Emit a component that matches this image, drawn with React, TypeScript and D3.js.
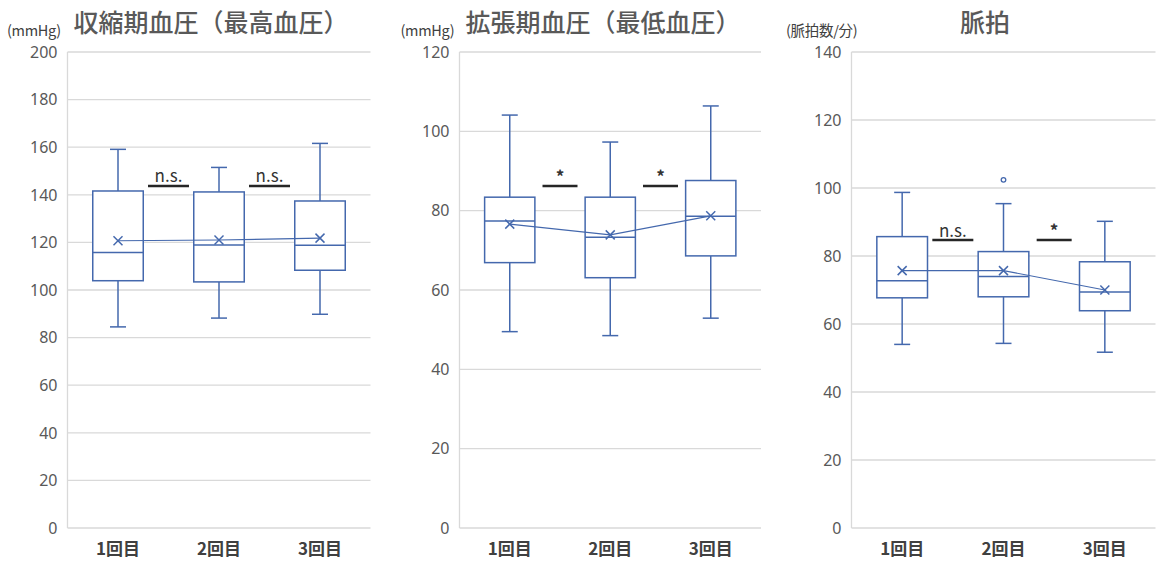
import React from "react";
import * as d3 from "d3";

// Visit labels shared by all three panels
const categories = ["1回目", "2回目", "3回目"];

// Systolic blood pressure (mmHg): five-number summary and mean per visit
const sbpMin = [84.5, 88.2, 89.8];
const sbpQ1 = [103.9, 103.4, 108.3];
const sbpMedian = [115.8, 118.9, 118.8];
const sbpQ3 = [141.6, 141.2, 137.4];
const sbpMax = [159.1, 151.5, 161.6];
const sbpMean = [120.7, 121.0, 121.8];
const sbpOutliers: number[][] = [[], [], []];
const sbpSig = ["n.s.", "n.s."];

// Diastolic blood pressure (mmHg)
const dbpMin = [49.5, 48.5, 52.9];
const dbpQ1 = [66.9, 63.1, 68.6];
const dbpMedian = [77.4, 73.3, 78.6];
const dbpQ3 = [83.4, 83.4, 87.6];
const dbpMax = [104.1, 97.3, 106.4];
const dbpMean = [76.6, 73.9, 78.7];
const dbpOutliers: number[][] = [[], [], []];
const dbpSig = ["*", "*"];

// Pulse (beats / min)
const pulseMin = [54.0, 54.3, 51.7];
const pulseQ1 = [67.7, 68.0, 63.9];
const pulseMedian = [72.7, 74.0, 69.4];
const pulseQ3 = [85.7, 81.3, 78.3];
const pulseMax = [98.7, 95.4, 90.2];
const pulseMean = [75.7, 75.7, 70.0];
const pulseOutliers: number[][] = [[], [102.4], []];
const pulseSig = ["n.s.", "*"];

// Axis tick values
const sbpTicks = [0, 20, 40, 60, 80, 100, 120, 140, 160, 180, 200];
const dbpTicks = [0, 20, 40, 60, 80, 100, 120];
const pulseTicks = [0, 20, 40, 60, 80, 100, 120, 140];

type Panel = {
  title: string;
  unit: string;
  ticks: number[];
  min: number[];
  q1: number[];
  median: number[];
  q3: number[];
  max: number[];
  mean: number[];
  outliers: number[][];
  sig: string[];
  sigLevel: number;
  // layout
  x0: number;
  width: number;
  titleX: number;
  unitX: number;
};

const panels: Panel[] = [
  {
    title: "収縮期血圧（最高血圧）",
    unit: "(mmHg)",
    ticks: sbpTicks,
    min: sbpMin, q1: sbpQ1, median: sbpMedian, q3: sbpQ3, max: sbpMax, mean: sbpMean,
    outliers: sbpOutliers,
    sig: sbpSig,
    sigLevel: 143.7,
    x0: 67.5, width: 303, titleX: 211, unitX: 7,
  },
  {
    title: "拡張期血圧（最低血圧）",
    unit: "(mmHg)",
    ticks: dbpTicks,
    min: dbpMin, q1: dbpQ1, median: dbpMedian, q3: dbpQ3, max: dbpMax, mean: dbpMean,
    outliers: dbpOutliers,
    sig: dbpSig,
    sigLevel: 86.2,
    x0: 459.5, width: 301.5, titleX: 603, unitX: 400.5,
  },
  {
    title: "脈拍",
    unit: "(脈拍数/分)",
    ticks: pulseTicks,
    min: pulseMin, q1: pulseQ1, median: pulseMedian, q3: pulseQ3, max: pulseMax, mean: pulseMean,
    outliers: pulseOutliers,
    sig: pulseSig,
    sigLevel: 84.7,
    x0: 851.5, width: 304, titleX: 985, unitX: 786,
  },
];

const TOP = 52;
const BOTTOM = 528;
const BLUE = "#4468ad";
const GRID = "#d9d9d9";
const FONT = "'Noto Sans CJK JP', 'Noto Sans', sans-serif";
const LATIN = "'Noto Sans', 'Noto Sans CJK JP', sans-serif";

function BoxPanel({ p }: { p: Panel }) {
  const yMax = p.ticks[p.ticks.length - 1];
  const y = d3.scaleLinear().domain([0, yMax]).range([BOTTOM, TOP]);
  const x = d3.scaleBand<string>().domain(categories).range([p.x0, p.x0 + p.width]).padding(0);
  const bw = x.bandwidth();
  const boxW = bw * 0.5;
  const capW = 16;
  const cx = (c: string) => (x(c) as number) + bw / 2;

  const meanLine = d3
    .line<number>()
    .x((_, i) => cx(categories[i]))
    .y((d) => y(d))(p.mean) as string;

  return (
    <g>
      {/* title */}
      <text x={p.titleX} y={32} textAnchor="middle" fontSize={25} fontWeight={500} fill="#595959" fontFamily={FONT}>
        {p.title}
      </text>
      {/* unit */}
      <text x={p.unitX} y={36} fontSize={14.5} fill="#404040" fontFamily={FONT} letterSpacing={-0.3}>
        {p.unit}
      </text>
      {/* gridlines + tick labels */}
      {p.ticks.map((t) => (
        <g key={t}>
          <line x1={p.x0} x2={p.x0 + p.width} y1={y(t)} y2={y(t)} stroke={GRID} strokeWidth={1.3} />
          <text x={p.x0 - 10} y={y(t)} dy="0.36em" textAnchor="end" fontSize={16} fill="#595959" fontFamily={LATIN}>
            {t}
          </text>
        </g>
      ))}
      {/* vertical axis line */}
      <line x1={p.x0} x2={p.x0} y1={TOP} y2={BOTTOM} stroke={GRID} strokeWidth={1.3} />
      {/* category labels */}
      {categories.map((c) => (
        <text key={c} x={cx(c)} y={555} textAnchor="middle" fontSize={17} fontWeight={700} fill="#404040" fontFamily={FONT}>
          {c}
        </text>
      ))}
      {/* boxes */}
      {categories.map((c, i) => {
        const xc = cx(c);
        return (
          <g key={c} fill="none" stroke={BLUE} strokeWidth={1.5}>
            <line x1={xc} x2={xc} y1={y(p.max[i])} y2={y(p.q3[i])} />
            <line x1={xc} x2={xc} y1={y(p.q1[i])} y2={y(p.min[i])} />
            <line x1={xc - capW / 2} x2={xc + capW / 2} y1={y(p.max[i])} y2={y(p.max[i])} />
            <line x1={xc - capW / 2} x2={xc + capW / 2} y1={y(p.min[i])} y2={y(p.min[i])} />
            <rect x={xc - boxW / 2} y={y(p.q3[i])} width={boxW} height={y(p.q1[i]) - y(p.q3[i])} fill="#fff" />
            <line x1={xc - boxW / 2} x2={xc + boxW / 2} y1={y(p.median[i])} y2={y(p.median[i])} />
            {p.outliers[i].map((o, k) => (
              <circle key={k} cx={xc} cy={y(o)} r={2.3} fill="#fff" strokeWidth={1.3} />
            ))}
          </g>
        );
      })}
      {/* mean line and markers */}
      <path d={meanLine} fill="none" stroke={BLUE} strokeWidth={1.2} />
      {categories.map((c, i) => {
        const xc = cx(c);
        const ym = y(p.mean[i]);
        const s = 4.5;
        return (
          <g key={c} stroke={BLUE} strokeWidth={1.5}>
            <line x1={xc - s} x2={xc + s} y1={ym - s} y2={ym + s} />
            <line x1={xc - s} x2={xc + s} y1={ym + s} y2={ym - s} />
          </g>
        );
      })}
      {/* significance marks between consecutive visits */}
      {p.sig.map((s, i) => {
        const mid = (cx(categories[i]) + cx(categories[i + 1])) / 2;
        const half = s === "*" ? 17.5 : 20.5;
        const yl = y(p.sigLevel);
        return (
          <g key={i}>
            <line x1={mid - half} x2={mid + half} y1={yl} y2={yl} stroke="#262626" strokeWidth={2.5} />
            <text x={mid} y={yl - 3.5} textAnchor="middle" fontSize={17} fontWeight={s === "*" ? 700 : 400} fill="#333" fontFamily={FONT}>
              {s}
            </text>
          </g>
        );
      })}
    </g>
  );
}

export default function App() {
  return (
    <svg
      width={1168}
      height={563}
      viewBox="0 0 1168 563"
      style={{ position: "absolute", left: 0, top: 0, background: "#fff" }}
    >
      <rect x={0} y={0} width={1168} height={563} fill="#fff" />
      {panels.map((p, i) => (
        <BoxPanel key={i} p={p} />
      ))}
    </svg>
  );
}
